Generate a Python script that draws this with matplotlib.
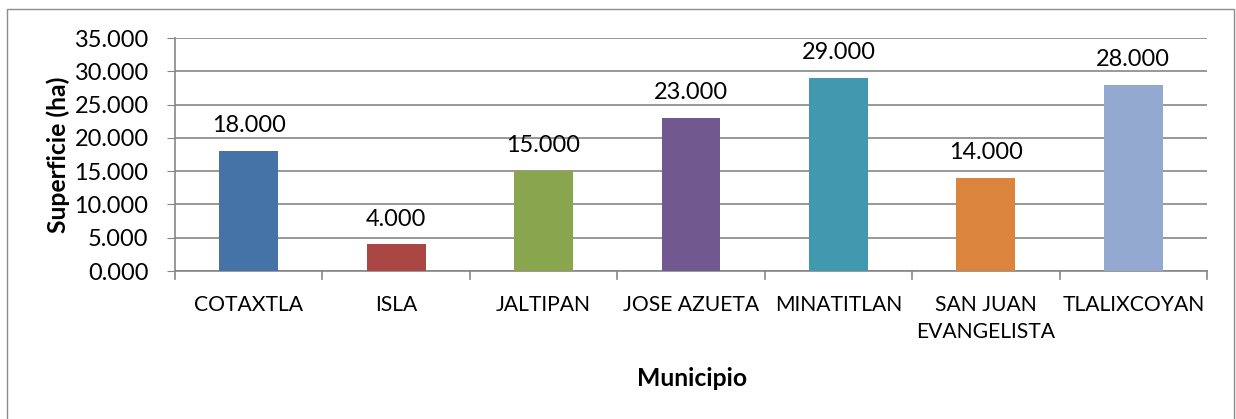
import matplotlib
matplotlib.use("Agg")
import matplotlib.pyplot as plt
from matplotlib.patches import Rectangle

categories = ["COTAXTLA", "ISLA", "JALTIPAN", "JOSE AZUETA", "MINATITLAN",
              "SAN JUAN\nEVANGELISTA", "TLALIXCOYAN"]
values = [18.0, 4.0, 15.0, 23.0, 29.0, 14.0, 28.0]
colors = ["#4572A7", "#AA4643", "#89A54E", "#71588F", "#4198AF", "#DB843D", "#93A9CF"]
yticks = [0, 5, 10, 15, 20, 25, 30, 35]

plt.rcParams['font.family'] = ['Lato', 'DejaVu Sans']

W, H = 1236, 419
fig = plt.figure(figsize=(W / 100, H / 100), dpi=100)
fig.patches.append(Rectangle((7 / W, -0.01), (1234 - 7) / W, 1 - 9 / H + 0.01,
                             transform=fig.transFigure, fill=False,
                             edgecolor="#8c8c8c", linewidth=1.0))

left, right, top, bottom = 175, 1207, 38, 271
ax = fig.add_axes([left / W, 1 - bottom / H, (right - left) / W, (bottom - top) / H])

NUM_FS = 16.9
CAT_FS = 15.2
LAB_FS = 17.8

x = list(range(len(categories)))
ax.bar(x, values, width=0.4, color=colors, zorder=3)
for xi, v in zip(x, values):
    ax.annotate(f"{v:.3f}", (xi, v), xytext=(0, 13.5), textcoords="offset points",
                ha="center", va="baseline", fontsize=NUM_FS, color="black")

ax.set_xlim(-0.5, len(categories) - 0.5)
ax.set_ylim(0, 35)
ax.set_yticks(yticks)
ax.set_yticklabels([f"{t:.3f}" for t in yticks], fontsize=NUM_FS)
ax.yaxis.grid(True, color="#868686", linewidth=1.2, zorder=0)
ax.set_axisbelow(True)
ax.tick_params(axis="y", length=6, color="#868686", pad=13)

ax.set_xticks(x)
ax.set_xticklabels(categories, fontsize=CAT_FS, linespacing=1.45, va="top")
ax.tick_params(axis="x", length=0, pad=17)
# category boundary tick marks
for b in [i - 0.5 for i in range(len(categories) + 1)]:
    ax.plot([b, b], [0, -1.2], color="#868686", linewidth=1.2, clip_on=False, zorder=4)

for s in ["top", "right"]:
    ax.spines[s].set_visible(False)
ax.spines["left"].set_color("#868686")
ax.spines["left"].set_linewidth(1.2)
ax.spines["bottom"].set_color("#868686")
ax.spines["bottom"].set_linewidth(1.2)

fig.text(58 / W, 1 - 155 / H, "Superficie (ha)", fontsize=LAB_FS, fontweight="bold",
         rotation=90, ha="center", va="center")
fig.text(692 / W, 1 - 378 / H, "Municipio", fontsize=LAB_FS,
         fontweight="bold", ha="center", va="center")

fig.savefig("out.png", dpi=100)
